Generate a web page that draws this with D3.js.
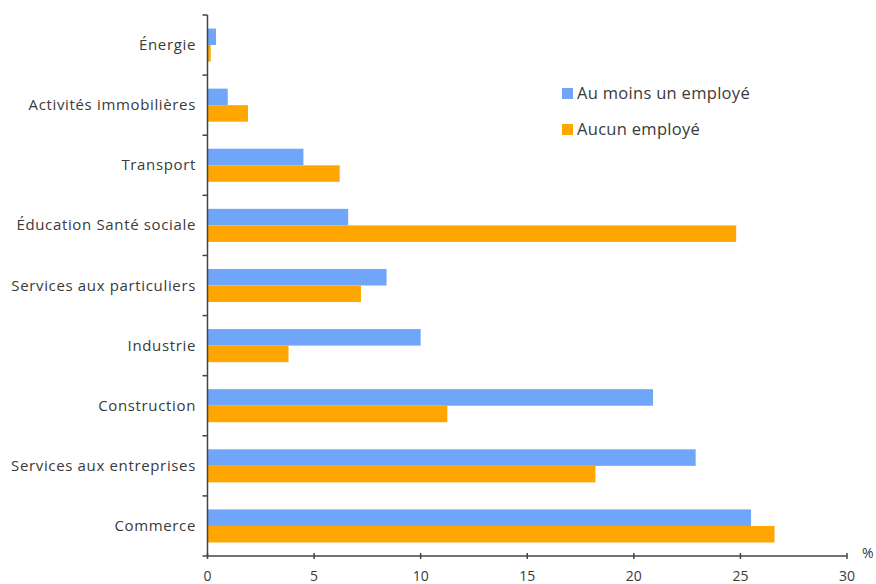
<!DOCTYPE html>
<html><head><meta charset="utf-8">
<script src="https://cdn.jsdelivr.net/npm/d3@7"></script>
<style>body{margin:0;background:#fff}svg{display:block}text{font-family:"Open Sans",sans-serif;fill:#3a3a3a}</style>
</head><body><svg id="c" width="876" height="584"></svg>
<script>
const categories = ["Énergie","Activités immobilières","Transport","Éducation Santé sociale","Services aux particuliers","Industrie","Construction","Services aux entreprises","Commerce"];
const auMoinsUn = [0.4, 0.95, 4.5, 6.6, 8.4, 10.0, 20.9, 22.9, 25.5];
const aucun = [0.15, 1.9, 6.2, 24.8, 7.2, 3.8, 11.25, 18.2, 26.6];
const seriesNames = ["Au moins un employé","Aucun employé"];
const colors = ["#70a6fa","#ffa600"];
const xTicks = [0,5,10,15,20,25,30];

const svg = d3.select("#c");
const x0 = 207.5, x1 = 847, yTop = 15, yBot = 556;
const x = d3.scaleLinear().domain([0,30]).range([x0,x1]);
const y = d3.scaleBand().domain(categories).range([yTop,yBot]).paddingInner(0.45).paddingOuter(0.225);
const sub = d3.scaleBand().domain([0,1]).range([0,y.bandwidth()]);

const data = categories.map((c,i)=>({c, v:[auMoinsUn[i], aucun[i]]}));
const g = svg.append("g");
data.forEach(d=>{
  d.v.forEach((v,k)=>{
    g.append("rect").attr("x",x(0)).attr("y",y(d.c)+sub(k)).attr("width",x(v)-x(0)).attr("height",sub.bandwidth()).attr("fill",colors[k]);
  });
});

// y axis
svg.append("line").attr("x1",x0).attr("x2",x0).attr("y1",yTop).attr("y2",yBot).attr("stroke","#444").attr("stroke-width",1.5);
const bounds = d3.range(0,categories.length+1).map(i=>yTop + i*y.step());
svg.selectAll(".yt").data(bounds).join("line").attr("x1",x0-5).attr("x2",x0).attr("y1",d=>d).attr("y2",d=>d).attr("stroke","#444").attr("stroke-width",1.5);
svg.selectAll(".yl").data(categories).join("text").attr("x",196).attr("y",d=>y(d)+y.bandwidth()/2+5)
  .attr("text-anchor","end").attr("font-size",15).attr("letter-spacing",0.65).text(d=>d);

// x axis
svg.append("line").attr("x1",x0).attr("x2",x1).attr("y1",yBot).attr("y2",yBot).attr("stroke","#444").attr("stroke-width",1.5);
svg.selectAll(".xt").data(xTicks).join("line").attr("x1",d=>x(d)).attr("x2",d=>x(d)).attr("y1",yBot-3).attr("y2",yBot+3).attr("stroke","#444").attr("stroke-width",1.5);
svg.selectAll(".xl").data(xTicks).join("text").attr("x",d=>x(d)).attr("y",581).attr("text-anchor","middle").attr("font-size",14).text(d=>d);
svg.append("text").attr("x",862).attr("y",558).attr("text-anchor","start").attr("font-size",14).text("%");

// legend
seriesNames.forEach((n,k)=>{
  const ly = 88 + k*36;
  svg.append("rect").attr("x",562).attr("y",ly).attr("width",11).attr("height",11).attr("fill",colors[k]);
  svg.append("text").attr("x",577).attr("y",ly+11).attr("font-size",16.5).attr("letter-spacing",0.3).text(n);
});
</script></body></html>
